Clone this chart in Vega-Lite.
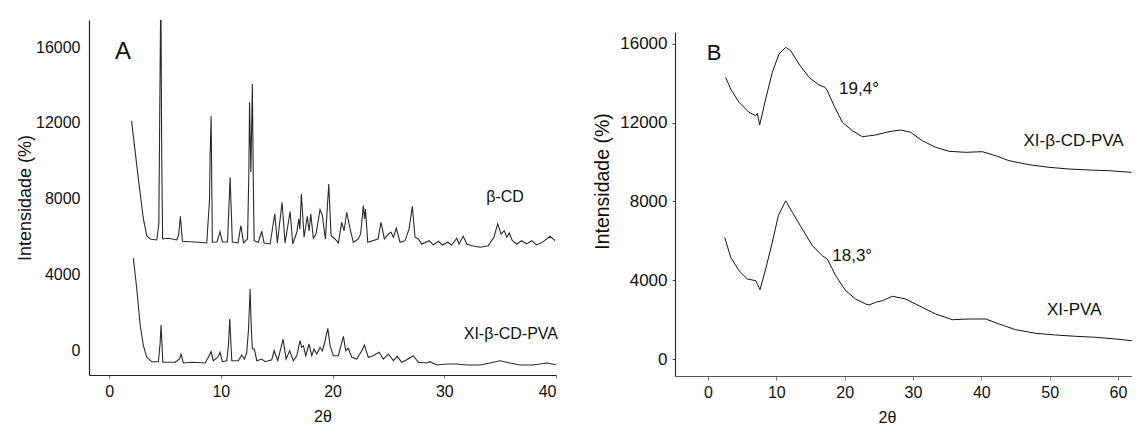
{
  "$schema": "https://vega.github.io/schema/vega-lite/v6.json",
  "background": "white",
  "padding": {"left": 16, "top": 20, "right": 0, "bottom": 0},
  "spacing": 34,
  "config": {
    "font": "Liberation Sans",
    "view": {"stroke": null},
    "axis": {"grid": false, "labelFont": "Liberation Sans", "titleFont": "Liberation Sans", "titleFontWeight": "normal", "labelColor": "#111", "titleColor": "#111"},
    "text": {"font": "Liberation Sans"}
  },
  "datasets": {
    "A": [
      {"s":"bcd","t":2.01,"i":12100},{"s":"bcd","t":2.62,"i":9036},{"s":"bcd","t":3.07,"i":6922},{"s":"bcd","t":3.37,"i":6040},{"s":"bcd","t":3.67,"i":5865},{"s":"bcd","t":4.27,"i":5812},{"s":"bcd","t":4.45,"i":6658},{"s":"bcd","t":4.63,"i":19500},{"s":"bcd","t":4.71,"i":10092},{"s":"bcd","t":4.79,"i":5865},{"s":"bcd","t":5.31,"i":5902},{"s":"bcd","t":6.06,"i":5812},{"s":"bcd","t":6.22,"i":6077},{"s":"bcd","t":6.38,"i":7065},{"s":"bcd","t":6.56,"i":5744},{"s":"bcd","t":7.70,"i":5707},{"s":"bcd","t":8.74,"i":5654},{"s":"bcd","t":8.99,"i":7979},{"s":"bcd","t":9.04,"i":10267},{"s":"bcd","t":9.13,"i":12349},{"s":"bcd","t":9.24,"i":5691},{"s":"bcd","t":9.66,"i":5707},{"s":"bcd","t":9.93,"i":6251},{"s":"bcd","t":10.14,"i":5707},{"s":"bcd","t":10.60,"i":5707},{"s":"bcd","t":10.83,"i":9125},{"s":"bcd","t":11.03,"i":5707},{"s":"bcd","t":11.54,"i":5654},{"s":"bcd","t":11.79,"i":6568},{"s":"bcd","t":12.04,"i":5654},{"s":"bcd","t":12.39,"i":5865},{"s":"bcd","t":12.51,"i":9406},{"s":"bcd","t":12.57,"i":13088},{"s":"bcd","t":12.69,"i":9406},{"s":"bcd","t":12.82,"i":14055},{"s":"bcd","t":12.90,"i":9300},{"s":"bcd","t":12.98,"i":5775},{"s":"bcd","t":13.36,"i":5691},{"s":"bcd","t":13.66,"i":6272},{"s":"bcd","t":13.87,"i":5654},{"s":"bcd","t":14.41,"i":5601},{"s":"bcd","t":14.83,"i":7186},{"s":"bcd","t":15.06,"i":5654},{"s":"bcd","t":15.48,"i":7805},{"s":"bcd","t":15.75,"i":5654},{"s":"bcd","t":16.20,"i":7308},{"s":"bcd","t":16.44,"i":5601},{"s":"bcd","t":16.80,"i":6219},{"s":"bcd","t":16.98,"i":6922},{"s":"bcd","t":17.07,"i":6394},{"s":"bcd","t":17.21,"i":8243},{"s":"bcd","t":17.45,"i":5955},{"s":"bcd","t":17.74,"i":7065},{"s":"bcd","t":17.90,"i":6288},{"s":"bcd","t":18.05,"i":7186},{"s":"bcd","t":18.28,"i":5902},{"s":"bcd","t":18.52,"i":6129},{"s":"bcd","t":18.88,"i":7413},{"s":"bcd","t":19.09,"i":7096},{"s":"bcd","t":19.36,"i":5865},{"s":"bcd","t":19.66,"i":8771},{"s":"bcd","t":19.87,"i":6040},{"s":"bcd","t":20.22,"i":5865},{"s":"bcd","t":20.52,"i":5654},{"s":"bcd","t":20.82,"i":6748},{"s":"bcd","t":21.03,"i":6288},{"s":"bcd","t":21.27,"i":7276},{"s":"bcd","t":21.57,"i":6394},{"s":"bcd","t":21.86,"i":5691},{"s":"bcd","t":22.31,"i":5865},{"s":"bcd","t":22.51,"i":6129},{"s":"bcd","t":22.76,"i":7625},{"s":"bcd","t":22.86,"i":6922},{"s":"bcd","t":22.95,"i":7450},{"s":"bcd","t":23.15,"i":5691},{"s":"bcd","t":24.07,"i":5865},{"s":"bcd","t":24.34,"i":6748},{"s":"bcd","t":24.64,"i":5865},{"s":"bcd","t":24.99,"i":6129},{"s":"bcd","t":25.24,"i":6219},{"s":"bcd","t":25.44,"i":5955},{"s":"bcd","t":25.71,"i":6431},{"s":"bcd","t":26.04,"i":5691},{"s":"bcd","t":26.49,"i":5775},{"s":"bcd","t":26.85,"i":6394},{"s":"bcd","t":27.14,"i":7593},{"s":"bcd","t":27.38,"i":5955},{"s":"bcd","t":27.68,"i":5865},{"s":"bcd","t":27.98,"i":5601},{"s":"bcd","t":28.64,"i":5775},{"s":"bcd","t":29.02,"i":5548},{"s":"bcd","t":29.47,"i":5744},{"s":"bcd","t":29.83,"i":5548},{"s":"bcd","t":30.31,"i":5691},{"s":"bcd","t":30.67,"i":5548},{"s":"bcd","t":31.11,"i":5902},{"s":"bcd","t":31.32,"i":5601},{"s":"bcd","t":31.70,"i":6008},{"s":"bcd","t":32.01,"i":5601},{"s":"bcd","t":32.46,"i":5511},{"s":"bcd","t":33.20,"i":5427},{"s":"bcd","t":33.94,"i":5511},{"s":"bcd","t":34.45,"i":5971},{"s":"bcd","t":34.78,"i":6658},{"s":"bcd","t":35.08,"i":6129},{"s":"bcd","t":35.37,"i":6304},{"s":"bcd","t":35.59,"i":5955},{"s":"bcd","t":35.82,"i":6182},{"s":"bcd","t":36.09,"i":5775},{"s":"bcd","t":36.48,"i":5601},{"s":"bcd","t":36.93,"i":5775},{"s":"bcd","t":37.38,"i":5601},{"s":"bcd","t":37.83,"i":5775},{"s":"bcd","t":38.27,"i":5548},{"s":"bcd","t":38.86,"i":5723},{"s":"bcd","t":39.46,"i":6008},{"s":"bcd","t":39.91,"i":5775},
      {"s":"xi","t":2.17,"i":4845},{"s":"xi","t":2.48,"i":3223},{"s":"xi","t":2.77,"i":1374},{"s":"xi","t":3.07,"i":227},{"s":"xi","t":3.37,"i":-386},{"s":"xi","t":3.82,"i":-618},{"s":"xi","t":4.41,"i":-618},{"s":"xi","t":4.56,"i":317},{"s":"xi","t":4.65,"i":1321},{"s":"xi","t":4.81,"i":-650},{"s":"xi","t":5.91,"i":-650},{"s":"xi","t":6.31,"i":-476},{"s":"xi","t":6.44,"i":-211},{"s":"xi","t":6.65,"i":-687},{"s":"xi","t":7.40,"i":-650},{"s":"xi","t":8.59,"i":-687},{"s":"xi","t":8.89,"i":-386},{"s":"xi","t":9.13,"i":-90},{"s":"xi","t":9.33,"i":-565},{"s":"xi","t":9.75,"i":-370},{"s":"xi","t":9.93,"i":-122},{"s":"xi","t":10.14,"i":-618},{"s":"xi","t":10.53,"i":-565},{"s":"xi","t":10.69,"i":317},{"s":"xi","t":10.80,"i":1638},{"s":"xi","t":10.98,"i":-565},{"s":"xi","t":11.57,"i":-565},{"s":"xi","t":11.87,"i":-264},{"s":"xi","t":12.11,"i":-476},{"s":"xi","t":12.32,"i":-122},{"s":"xi","t":12.48,"i":1110},{"s":"xi","t":12.62,"i":3223},{"s":"xi","t":12.73,"i":1110},{"s":"xi","t":12.82,"i":53},{"s":"xi","t":13.00,"i":53},{"s":"xi","t":13.22,"i":-565},{"s":"xi","t":13.66,"i":-476},{"s":"xi","t":13.96,"i":-618},{"s":"xi","t":14.56,"i":-513},{"s":"xi","t":14.77,"i":-37},{"s":"xi","t":15.10,"i":-565},{"s":"xi","t":15.57,"i":581},{"s":"xi","t":15.84,"i":-476},{"s":"xi","t":16.17,"i":-37},{"s":"xi","t":16.49,"i":-565},{"s":"xi","t":16.80,"i":-301},{"s":"xi","t":17.09,"i":491},{"s":"xi","t":17.24,"i":143},{"s":"xi","t":17.39,"i":227},{"s":"xi","t":17.60,"i":-301},{"s":"xi","t":17.90,"i":317},{"s":"xi","t":18.14,"i":-301},{"s":"xi","t":18.34,"i":53},{"s":"xi","t":18.59,"i":-211},{"s":"xi","t":18.88,"i":143},{"s":"xi","t":19.09,"i":-37},{"s":"xi","t":19.27,"i":317},{"s":"xi","t":19.57,"i":1147},{"s":"xi","t":19.78,"i":227},{"s":"xi","t":20.07,"i":-301},{"s":"xi","t":20.52,"i":-301},{"s":"xi","t":20.97,"i":724},{"s":"xi","t":21.18,"i":-37},{"s":"xi","t":21.41,"i":90},{"s":"xi","t":21.72,"i":-386},{"s":"xi","t":22.17,"i":-476},{"s":"xi","t":22.61,"i":-37},{"s":"xi","t":22.85,"i":264},{"s":"xi","t":23.20,"i":-386},{"s":"xi","t":23.65,"i":-301},{"s":"xi","t":24.16,"i":-122},{"s":"xi","t":24.55,"i":-476},{"s":"xi","t":24.99,"i":-211},{"s":"xi","t":25.44,"i":-565},{"s":"xi","t":25.80,"i":-333},{"s":"xi","t":26.19,"i":-650},{"s":"xi","t":26.64,"i":-513},{"s":"xi","t":27.23,"i":-301},{"s":"xi","t":27.68,"i":-650},{"s":"xi","t":28.43,"i":-687},{"s":"xi","t":28.72,"i":-618},{"s":"xi","t":29.32,"i":-793},{"s":"xi","t":30.22,"i":-740},{"s":"xi","t":31.11,"i":-740},{"s":"xi","t":32.01,"i":-793},{"s":"xi","t":33.20,"i":-793},{"s":"xi","t":34.09,"i":-687},{"s":"xi","t":34.99,"i":-565},{"s":"xi","t":35.88,"i":-687},{"s":"xi","t":36.78,"i":-793},{"s":"xi","t":37.97,"i":-793},{"s":"xi","t":39.17,"i":-687},{"s":"xi","t":40.00,"i":-777}
    ],
    "B": [
      {"s":"xib","t":2.59,"i":14307},{"s":"xib","t":3.32,"i":13713},{"s":"xib","t":4.54,"i":13038},{"s":"xib","t":6.00,"i":12530},{"s":"xib","t":6.98,"i":12357},{"s":"xib","t":7.22,"i":12479},{"s":"xib","t":7.56,"i":11885},{"s":"xib","t":8.44,"i":13205},{"s":"xib","t":9.41,"i":14561},{"s":"xib","t":10.39,"i":15491},{"s":"xib","t":11.37,"i":15831},{"s":"xib","t":12.10,"i":15659},{"s":"xib","t":13.32,"i":14983},{"s":"xib","t":14.78,"i":14307},{"s":"xib","t":16.24,"i":13916},{"s":"xib","t":17.12,"i":13800},{"s":"xib","t":17.46,"i":13627},{"s":"xib","t":18.44,"i":12866},{"s":"xib","t":19.66,"i":12022},{"s":"xib","t":21.12,"i":11596},{"s":"xib","t":22.58,"i":11291},{"s":"xib","t":24.54,"i":11377},{"s":"xib","t":26.49,"i":11545},{"s":"xib","t":28.20,"i":11631},{"s":"xib","t":29.67,"i":11514},{"s":"xib","t":31.36,"i":11087},{"s":"xib","t":33.32,"i":10752},{"s":"xib","t":35.27,"i":10549},{"s":"xib","t":37.71,"i":10498},{"s":"xib","t":40.14,"i":10529},{"s":"xib","t":42.10,"i":10326},{"s":"xib","t":44.05,"i":10072},{"s":"xib","t":46.98,"i":9868},{"s":"xib","t":49.90,"i":9736},{"s":"xib","t":52.83,"i":9650},{"s":"xib","t":55.76,"i":9599},{"s":"xib","t":58.69,"i":9564},{"s":"xib","t":62.01,"i":9482},
      {"s":"xip","t":2.44,"i":6181},{"s":"xip","t":3.32,"i":5165},{"s":"xip","t":4.54,"i":4485},{"s":"xip","t":5.76,"i":4063},{"s":"xip","t":6.98,"i":3977},{"s":"xip","t":7.61,"i":3520},{"s":"xip","t":8.44,"i":4571},{"s":"xip","t":9.41,"i":5927},{"s":"xip","t":10.29,"i":7278},{"s":"xip","t":11.37,"i":8040},{"s":"xip","t":12.34,"i":7451},{"s":"xip","t":13.80,"i":6603},{"s":"xip","t":15.27,"i":5754},{"s":"xip","t":16.73,"i":5247},{"s":"xip","t":17.46,"i":5079},{"s":"xip","t":18.69,"i":4231},{"s":"xip","t":20.15,"i":3469},{"s":"xip","t":21.61,"i":3047},{"s":"xip","t":23.08,"i":2793},{"s":"xip","t":23.56,"i":2743},{"s":"xip","t":24.54,"i":2880},{"s":"xip","t":25.51,"i":2961},{"s":"xip","t":26.97,"i":3185},{"s":"xip","t":28.93,"i":3047},{"s":"xip","t":30.88,"i":2707},{"s":"xip","t":33.32,"i":2286},{"s":"xip","t":35.76,"i":1996},{"s":"xip","t":38.20,"i":2032},{"s":"xip","t":40.64,"i":2032},{"s":"xip","t":42.59,"i":1778},{"s":"xip","t":45.03,"i":1488},{"s":"xip","t":47.96,"i":1305},{"s":"xip","t":50.89,"i":1219},{"s":"xip","t":53.81,"i":1153},{"s":"xip","t":56.74,"i":1102},{"s":"xip","t":59.67,"i":1016},{"s":"xip","t":62.01,"i":929}
    ],
    "labA": [
      {"t": 35.44, "i": 8085, "label": "β-CD"},
      {"t": 35.96, "i": 845, "label": "XI-β-CD-PVA"}
    ],
    "letA": [{"t": 1.25, "i": 15746, "label": "A"}],
    "labB": [
      {"t": 22.1, "i": 13713, "label": "19,4°"},
      {"t": 21.1, "i": 5247, "label": "18,3°"},
      {"t": 53.5, "i": 11087, "label": "XI-β-CD-PVA"},
      {"t": 53.6, "i": 2489, "label": "XI-PVA"}
    ],
    "letB": [{"t": 0.88, "i": 15542, "label": "B"}]
  },
  "hconcat": [
    {
      "width": 467,
      "height": 355,
      "encoding": {
        "x": {"field": "t", "type": "quantitative",
          "scale": {"domain": [-1.8, 40], "nice": false, "zero": false},
          "axis": {"values": [0, 10, 20, 30, 40], "format": "d", "title": "2θ", "tickSize": 3, "tickColor": "#666", "domainColor": "#222", "domainWidth": 1.2, "labelPadding": 5, "labelFontSize": 16, "titleFontSize": 16, "titlePadding": 9}},
        "y": {"field": "i", "type": "quantitative",
          "scale": {"domain": [-1320, 17430], "nice": false, "zero": false},
          "axis": {"values": [0, 4000, 8000, 12000, 16000], "format": "d", "title": "Intensidade (%)", "ticks": false, "tickSize": 0, "domainColor": "#222", "domainWidth": 1.2, "labelPadding": 9, "labelFontSize": 16, "titleFontSize": 18, "titlePadding": 1}}
      },
      "layer": [
        {"data": {"name": "A"}, "mark": {"type": "line", "clip": true, "color": "#2b2b2b", "strokeWidth": 1.1}, "encoding": {"detail": {"field": "s"}}},
        {"data": {"name": "labA"}, "mark": {"type": "text", "fontSize": 16, "color": "#111"}, "encoding": {"text": {"field": "label"}}},
        {"data": {"name": "letA"}, "mark": {"type": "text", "fontSize": 24, "color": "#111"}, "encoding": {"text": {"field": "label"}}}
      ]
    },
    {
      "width": 457,
      "height": 356,
      "encoding": {
        "x": {"field": "t", "type": "quantitative",
          "scale": {"domain": [-4.83, 62.05], "nice": false, "zero": false},
          "axis": {"values": [0, 10, 20, 30, 40, 50, 60], "format": "d", "title": "2θ", "tickSize": 4, "tickColor": "#777", "domainColor": "#555", "domainWidth": 1.2, "labelPadding": 4, "labelFontSize": 16, "titleFontSize": 16, "titlePadding": 9, "titleX": 212}},
        "y": {"field": "i", "type": "quantitative",
          "scale": {"domain": [-863, 16608], "range": [356, 12], "nice": false, "zero": false},
          "axis": {"values": [0, 4000, 8000, 12000, 16000], "format": "d", "title": "Intensidade (%)", "tickSize": 3, "tickColor": "#555", "domainColor": "#333", "domainWidth": 1.2, "labelPadding": 5, "labelFontSize": 17, "titleFontSize": 19.5, "titlePadding": 7, "titleY": 161}}
      },
      "layer": [
        {"data": {"name": "B"}, "mark": {"type": "line", "clip": true, "color": "#151515", "strokeWidth": 1}, "encoding": {"detail": {"field": "s"}}},
        {"data": {"name": "labB"}, "mark": {"type": "text", "fontSize": 17, "color": "#111"}, "encoding": {"text": {"field": "label"}}},
        {"data": {"name": "letB"}, "mark": {"type": "text", "fontSize": 22, "color": "#111"}, "encoding": {"text": {"field": "label"}}}
      ]
    }
  ]
}
